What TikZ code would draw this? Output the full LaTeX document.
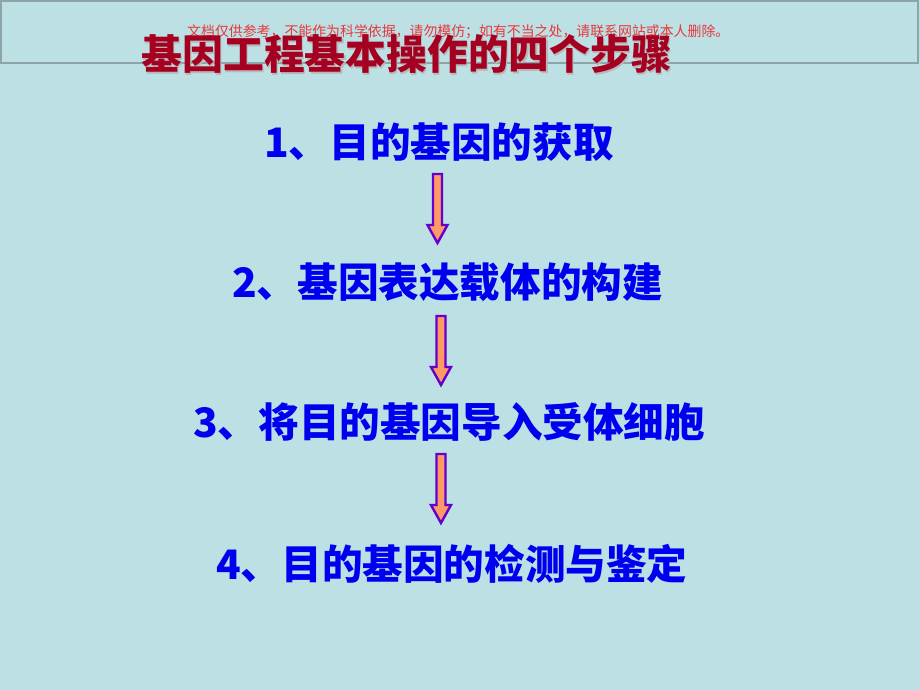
\documentclass[tikz,border=0pt]{standalone}
\usepackage{fontspec}
\usepackage{tikz}
\newfontfamily\cjk{Noto Sans CJK SC}
\definecolor{slidebg}{HTML}{BCE0E3}
\definecolor{stripline}{HTML}{8DA4A8}
\definecolor{titlered}{HTML}{A50021}
\definecolor{notered}{HTML}{E8383D}
\definecolor{stepblue}{HTML}{0000F0}
\definecolor{arrowpurple}{HTML}{6600CC}
\definecolor{arroworange}{HTML}{FF9966}
\tikzset{steptext/.style = {anchor = base west, inner sep = 0, text = stepblue,
                            font = \cjk\bfseries\fontsize{40.6}{40.6}\selectfont}}
\tikzset{steparrow/.style = {draw = arrowpurple, fill = arroworange, line width = 2.4,
                             line join = miter}}

\begin{document}
\begin{tikzpicture}[x=1pt, y=-1pt]
    \fill [slidebg] (0, 0) rectangle (920, 690);
    \useasboundingbox (0, 0) rectangle (920, 690);
    \draw [stripline, line width = 2] (1, 1) rectangle (918, 63);

    \node [anchor = base west, inner sep = 0, text = notered,
           font = \cjk\fontsize{13.9}{13.9}\selectfont] (note) at (187, 37)
      {文档仅供参考，不能作为科学依据，请勿模仿；如有不当之处，请联系网站或本人删除。};

    \node [anchor = base west, inner sep = 0, text = black!28,
           font = \cjk\bfseries\fontsize{40.8}{40.8}\selectfont] (shadow) at (142.7, 71.2)
      {基因工程基本操作的四个步骤};
    \node [anchor = base west, inner sep = 0, text = titlered,
           font = \cjk\bfseries\fontsize{40.8}{40.8}\selectfont] (title) at (141.5, 70)
      {基因工程基本操作的四个步骤};

    \node [steptext] (step1) at (264, 157) {1、目的基因的获取};
    \node [steptext] (step2) at (232, 297) {2、基因表达载体的构建};
    \node [steptext] (step3) at (193, 437) {3、将目的基因导入受体细胞};
    \node [steptext] (step4) at (216, 579) {4、目的基因的检测与鉴定};

    \foreach \x/\y in {437.5/174, 441/316, 441/454} {
      \begin{scope}[shift={(\x, \y)}]
        \draw [steparrow] (-4.5, 0) -- (4.5, 0) -- (4.5, 51) -- (10, 51)
          -- (0, 69) -- (-10, 51) -- (-4.5, 51) -- cycle;
      \end{scope}
    }
  \end{tikzpicture}
\end{document}
